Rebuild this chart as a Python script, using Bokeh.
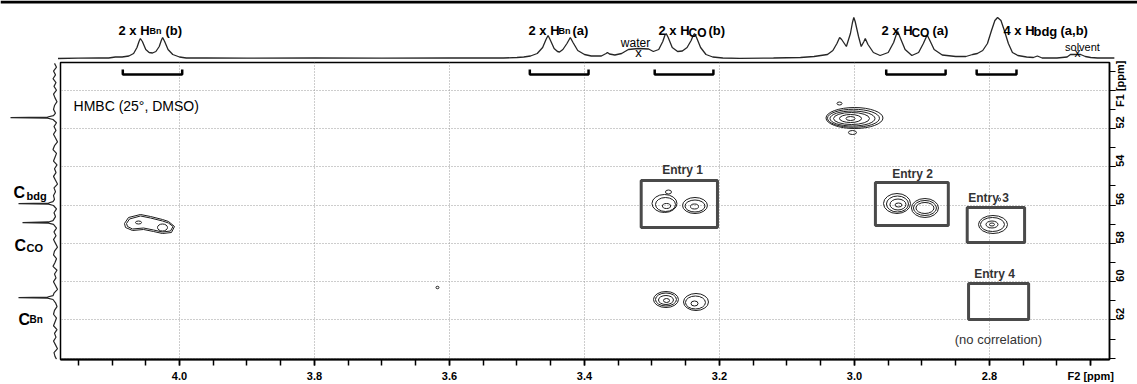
import math
from bokeh.plotting import figure
from bokeh.layouts import column, row
from bokeh.models import Range1d, FixedTicker, Label, Span, ColumnDataSource, NumeralTickFormatter
from bokeh.embed import file_html
from bokeh.resources import INLINE

# ---------------- data ----------------
# F2 (1H) projection shown on top: chemical shift (ppm) / intensity (a.u.)
F2_PPM = [4.180, 4.150, 4.120, 4.105, 4.095, 4.085, 4.075, 4.068, 4.063, 4.060, 4.058, 4.055, 4.050,
          4.045, 4.040, 4.035, 4.030, 4.027, 4.025, 4.022, 4.017, 4.010, 4.000, 3.990, 3.960, 3.900,
          3.800, 3.700, 3.600, 3.520, 3.500, 3.490, 3.480, 3.470, 3.462, 3.457, 3.454, 3.451, 3.445,
          3.440, 3.437, 3.432, 3.426, 3.421, 3.417, 3.410, 3.400, 3.390, 3.375, 3.368, 3.366, 3.363,
          3.355, 3.345, 3.335, 3.320, 3.305, 3.298, 3.290, 3.284, 3.281, 3.279, 3.276, 3.270, 3.262,
          3.255, 3.248, 3.242, 3.239, 3.237, 3.234, 3.228, 3.220, 3.210, 3.195, 3.170, 3.120, 3.080,
          3.060, 3.040, 3.032, 3.026, 3.022, 3.019, 3.012, 3.006, 3.003, 3.001, 2.999, 2.994, 2.990,
          2.986, 2.984, 2.980, 2.972, 2.962, 2.950, 2.942, 2.938, 2.936, 2.933, 2.925, 2.915, 2.905,
          2.898, 2.894, 2.892, 2.889, 2.882, 2.870, 2.850, 2.835, 2.825, 2.818, 2.810, 2.803, 2.797,
          2.792, 2.788, 2.783, 2.778, 2.772, 2.766, 2.758, 2.745, 2.735, 2.729, 2.722, 2.700, 2.685,
          2.680, 2.665, 2.658, 2.650, 2.640, 2.615]
F2_INT = [0.0, 0.3, 0.5, 0.5, 1.5, 1.5, 2.5, 5.0, 11.0, 17.0, 20.0, 17.0, 9.0,
          6.0, 5.5, 7.0, 12.0, 18.0, 21.0, 17.0, 9.0, 4.0, 1.5, 0.5, 0.5, 0.3,
          0.5, 0.3, 0.5, 0.5, 1.0, 1.5, 2.5, 5.0, 11.0, 19.0, 23.0, 19.0, 10.0,
          7.0, 6.5, 9.0, 15.0, 21.0, 16.0, 8.0, 4.0, 2.5, 2.5, 5.0, 6.0, 4.5,
          3.5, 5.0, 9.0, 10.0, 9.5, 7.0, 9.0, 17.0, 23.0, 25.0, 21.0, 11.0, 7.0,
          7.5, 11.0, 18.0, 23.0, 25.0, 21.0, 11.0, 4.0, 1.5, 0.5, 0.2, 0.5, 1.0,
          2.0, 4.0, 8.0, 15.0, 21.0, 19.0, 12.0, 25.0, 36.0, 41.0, 37.0, 22.0, 12.0,
          17.0, 20.0, 14.0, 6.0, 3.0, 6.0, 16.0, 24.0, 27.0, 22.0, 9.0, 3.0, 6.0,
          15.0, 21.0, 23.0, 19.0, 9.0, 3.5, 2.0, 2.0, 4.0, 5.0, 8.0, 15.0, 28.0,
          38.0, 41.0, 38.0, 28.0, 15.0, 6.0, 3.0, 1.5, 1.0, 2.5, 0.5, 0.5, 1.5,
          4.0, 4.0, 2.0, 1.0, 0.5, 0.5]

# F1 (13C) projection shown on the left: chemical shift (ppm) / intensity (a.u.)
F1_PPM = [48.6, 48.8, 49.0, 49.2, 49.4, 49.6, 49.8, 50.0, 50.2, 50.4, 50.6, 50.8, 51.0, 51.2,
          51.33, 51.40, 51.43, 51.46, 51.53, 51.7, 51.9, 52.1, 52.3, 52.5, 52.7, 52.9, 53.1,
          53.3, 53.5, 53.7, 53.9, 54.1, 54.3, 54.5, 54.7, 54.9, 55.1, 55.3, 55.5, 55.7, 55.82,
          55.89, 55.92, 55.95, 56.02, 56.2, 56.4, 56.6, 56.81, 56.88, 56.91, 56.94, 57.01, 57.2,
          57.4, 57.6, 57.8, 58.0, 58.2, 58.4, 58.6, 58.8, 59.0, 59.2, 59.4, 59.6, 59.8, 60.0,
          60.2, 60.4, 60.6, 60.73, 60.80, 60.83, 60.86, 60.93, 61.1, 61.3, 61.5, 61.7, 61.9,
          62.1, 62.3, 62.5, 62.7, 62.9, 63.1, 63.3, 63.5, 63.7, 63.9, 64.05]
F1_INT = [1.0, -1.0, 2.0, 0.0, 2.5, -0.5, 1.5, -1.0, 2.0, 0.5, -1.5, 1.0, 2.0, 0.0,
          2.0, 8.0, 45.0, 8.0, 2.5, -1.0, 1.5, -0.5, 2.0, 0.0, -2.0, 1.0, 2.5,
          -1.0, 0.5, 2.0, -1.5, 1.0, -0.5, 2.0, 0.0, -2.0, 1.5, 0.0, 2.0, 1.0, 2.5,
          7.0, 37.0, 7.0, 2.0, -1.0, 1.5, 0.0, 2.5, 7.0, 33.0, 7.0, 2.0, -1.0,
          1.5, -0.5, 2.0, 0.0, -2.0, 1.0, 2.0, -1.0, 0.5, 2.5, -1.5, 1.0, -0.5, 2.0,
          0.0, -2.0, 1.5, 2.5, 8.0, 37.0, 8.0, 2.5, 0.0, -1.5, 1.0, 2.0, -1.0,
          0.5, 2.0, -1.5, 1.0, -0.5, 2.0, 0.0, -2.0, 1.5, 0.5, -1.0]

# HMBC cross-peak contour levels, drawn as ellipses: centre F2, centre F1, width, height (ppm)
CP_F2 = [3.0000, 3.0015, 3.0030, 3.0044, 3.0059, 3.0059, 3.0222, 3.0030,
         3.2815, 3.2800, 3.2785, 3.2363, 3.2363, 3.2370, 3.2756,
         3.2793, 3.2793, 3.2793, 3.2785, 3.2348, 3.2356, 3.2370,
         2.9370, 2.9363, 2.9356, 2.9348, 2.8956, 2.8956, 2.8956,
         2.7948, 2.7956, 2.7963, 2.7963, 2.7852,
         4.0607, 4.0252, 3.6178]
CP_F1 = [51.452, 51.465, 51.478, 51.478, 51.478, 51.478, 50.694, 52.209,
         55.916, 55.969, 56.047, 56.021, 56.047, 56.073, 55.316,
         60.930, 60.930, 60.956, 60.982, 61.060, 61.086, 61.138,
         55.916, 55.943, 55.969, 55.995, 56.151, 56.151, 56.151,
         57.013, 57.013, 57.013, 57.013, 55.708,
         56.909, 57.170, 60.303]
CP_W = [0.0844, 0.0770, 0.0667, 0.0533, 0.0326, 0.0133, 0.0074, 0.0119,
        0.0370, 0.0296, 0.0119, 0.0370, 0.0296, 0.0119, 0.0089,
        0.0370, 0.0311, 0.0222, 0.0089, 0.0370, 0.0296, 0.0104,
        0.0400, 0.0326, 0.0237, 0.0104, 0.0400, 0.0341, 0.0267,
        0.0430, 0.0356, 0.0178, 0.0074, 0.0030,
        0.0089, 0.0148, 0.0044]
CP_H = [1.097, 0.940, 0.783, 0.627, 0.418, 0.209, 0.157, 0.209,
        0.940, 0.731, 0.261, 0.836, 0.627, 0.261, 0.209,
        0.836, 0.679, 0.470, 0.209, 0.888, 0.679, 0.261,
        1.044, 0.836, 0.574, 0.209, 0.992, 0.783, 0.574,
        0.940, 0.731, 0.366, 0.157, 0.157,
        0.157, 0.366, 0.130]

# irregular (two-lobed) contour of the H-Bn(b) cross-peak, two levels
LOOP1_F2 = [4.0815, 4.0756, 4.0578, 4.0430, 4.0252, 4.0163, 4.0074, 4.0119, 4.0252, 4.0385, 4.0533, 4.0696, 4.0800]
LOOP1_F1 = [56.961, 56.648, 56.491, 56.595, 56.752, 56.856, 57.117, 57.431, 57.483, 57.379, 57.274, 57.326, 57.170]
LOOP2_F2 = [4.0785, 4.0741, 4.0578, 4.0430, 4.0252, 4.0163, 4.0096, 4.0133, 4.0252, 4.0385, 4.0533, 4.0696, 4.0770]
LOOP2_F1 = [56.961, 56.726, 56.569, 56.674, 56.830, 56.935, 57.117, 57.352, 57.405, 57.300, 57.196, 57.248, 57.117]

# assignment brackets under the F2 projection (ppm)
BR_START = [4.084, 3.481, 3.296, 2.953, 2.819]
BR_END = [3.996, 3.394, 3.209, 2.865, 2.760]

# "Entry" boxes (ppm)
BOX_NAMES = ["Entry 1", "Entry 2", "Entry 3", "Entry 4"]
BOX_LEFT = [3.316, 2.969, 2.833, 2.831]
BOX_RIGHT = [3.203, 2.861, 2.748, 2.742]
BOX_TOP = [54.72, 54.82, 56.13, 60.09]
BOX_BOTTOM = [57.17, 57.07, 57.95, 61.97]

# axes: tick values and labels
X_TICKS = [4.0, 3.8, 3.6, 3.4, 3.2, 3.0, 2.8]
X_MINOR = [4.15, 4.10, 4.05, 4.0, 3.95, 3.90, 3.85, 3.8, 3.75, 3.70, 3.65, 3.6, 3.55, 3.50, 3.45, 3.4,
           3.35, 3.30, 3.25, 3.2, 3.15, 3.10, 3.05, 3.0, 2.95, 2.90, 2.85, 2.8, 2.75, 2.70, 2.65]
X_TITLE_AT, X_TITLE = 2.65, "F2 [ppm]"
Y_TICKS = [52, 54, 56, 58, 60, 62]
Y_MINOR = [49, 50, 51, 52, 53, 54, 55, 56, 57, 58, 59, 60, 61, 62, 63, 64]
Y_TITLE_AT, Y_TITLE = 50, "F1 [ppm]"
Y_GRID = [50, 52, 54, 56, 58, 60, 62, 64]

FONT = "Liberation Sans"
INK = "#1e1e1e"

# ---------------- figures ----------------
# 675 px per ppm (F2), 19.15 px per ppm (F1)
xr = Range1d(4.1763, 2.6222)
yr = Range1d(64.063, 48.553)   # F1 increases downwards

main = figure(width=1079, height=324, x_range=xr, y_range=yr, output_backend="svg",
              toolbar_location=None, x_axis_location="below", y_axis_location="right",
              min_border=0, min_border_left=2, min_border_right=28, min_border_top=2,
              min_border_bottom=25)
main.background_fill_color = "white"
main.border_fill_color = "white"
main.outline_line_color = "black"
main.outline_line_width = 1.5

xa = main.xaxis[0]
xa.ticker = FixedTicker(ticks=X_TICKS + [X_TITLE_AT], minor_ticks=X_MINOR)
xa.formatter = NumeralTickFormatter(format="0.0")
xa.major_label_overrides = {X_TITLE_AT: X_TITLE}
xa.axis_line_width = 2
xa.major_tick_in = 0
xa.major_tick_out = 6
xa.minor_tick_in = 0
xa.minor_tick_out = 6
xa.major_tick_line_width = 1.5
xa.minor_tick_line_width = 1.5
xa.major_label_standoff = 4
xa.major_label_text_font = FONT
xa.major_label_text_font_size = "11px"
xa.major_label_text_font_style = "bold"
xa.major_label_text_color = "black"

ya = main.yaxis[0]
ya.ticker = FixedTicker(ticks=Y_TICKS + [Y_TITLE_AT], minor_ticks=Y_MINOR)
ya.formatter = NumeralTickFormatter(format="0")
ya.major_label_overrides = {Y_TITLE_AT: Y_TITLE}
ya.axis_line_width = 1.5
ya.major_tick_in = 0
ya.major_tick_out = 6
ya.minor_tick_in = 0
ya.minor_tick_out = 6
ya.major_tick_line_width = 1.2
ya.minor_tick_line_width = 1.2
ya.major_label_standoff = 5
ya.major_label_orientation = math.pi / 2
ya.major_label_text_font = FONT
ya.major_label_text_font_size = "11px"
ya.major_label_text_font_style = "bold"
ya.major_label_text_color = "black"

main.xgrid.ticker = FixedTicker(ticks=X_TICKS)
main.ygrid.ticker = FixedTicker(ticks=Y_GRID)
for g in (main.xgrid[0], main.ygrid[0]):
    g.grid_line_color = "#9a9a9a"
    g.grid_line_dash = "1 2"
    g.grid_line_width = 1

main.quad(left=BOX_LEFT, right=BOX_RIGHT, top=BOX_TOP, bottom=BOX_BOTTOM,
          fill_color=None, line_color="#4a4a4a", line_width=3)

cp = ColumnDataSource(dict(x=CP_F2, y=CP_F1, w=CP_W, h=CP_H))
main.ellipse(x="x", y="y", width="w", height="h", source=cp, fill_color=None,
             line_color=INK, line_width=1)
main.multi_line(xs=[LOOP1_F2 + LOOP1_F2[:1], LOOP2_F2 + LOOP2_F2[:1]],
                ys=[LOOP1_F1 + LOOP1_F1[:1], LOOP2_F1 + LOOP2_F1[:1]],
                line_color=INK, line_width=1)

BR_TIP, BR_BAR = 48.919, 49.180
main.multi_line(xs=[[a, a, b, b] for a, b in zip(BR_START, BR_END)],
                ys=[[BR_TIP, BR_BAR, BR_BAR, BR_TIP] for _ in BR_START],
                line_color="black", line_width=2.5)


def lab(fig, x, y, text, size, bold=True, align="left", baseline="alphabetic",
        color="black", angle=0.0):
    fig.add_layout(Label(x=x, y=y, text=text, text_font=FONT, text_font_size=size,
                         text_font_style="bold" if bold else "normal", text_align=align,
                         text_baseline=baseline, text_color=color, angle=angle))


lab(main, 4.157, 50.80, "HMBC (25°, DMSO)", "14px", bold=False)
ENTRY_X = [3.2548, 2.9141, 2.8015, 2.7926]
ENTRY_Y = [54.141, 54.350, 55.655, 59.624]
for name, ex, ey in zip(BOX_NAMES, ENTRY_X, ENTRY_Y):
    lab(main, ex, ey, name, "12px", align="center", color="#333333")
lab(main, 2.7867, 63.018, "(no correlation)", "13px", bold=False, align="center", color="#333333")

# ---- top projection (F2), full page width, same ppm-per-pixel as the main plot ----
top = figure(width=1137, height=60, x_range=Range1d(4.2652, 2.5807), y_range=Range1d(-2, 58),
             output_backend="svg", toolbar_location=None, x_axis_type=None, y_axis_type=None,
             min_border=0, min_border_left=0, min_border_right=0, min_border_top=0,
             min_border_bottom=0)
top.outline_line_color = None
top.background_fill_color = "white"
top.border_fill_color = "white"
top.add_layout(Span(location=56.5, dimension="width", line_color="black", line_width=3))
top.line(F2_PPM, F2_INT, line_color="#262626", line_width=1.3)

for x, t in [(4.0904, "2 x H"), (3.4830, "2 x H"), (3.2904, "2 x H"), (2.9600, "2 x H"), (2.7793, "4 x H")]:
    lab(top, x, 28, t, "13px")
lab(top, 4.0444, 28, "Bn", "9px")
lab(top, 3.4385, 28, "Bn", "9px")
lab(top, 3.2459, 26, "CO", "12px")
lab(top, 2.9156, 26, "CO", "12px")
lab(top, 2.7348, 27, "bdg", "13px")
lab(top, 4.0207, 28, "(b)", "13px")
lab(top, 3.4178, 28, "(a)", "13px")
lab(top, 3.2163, 28, "(b)", "13px")
lab(top, 2.8844, 28, "(a)", "13px")
lab(top, 2.6948, 28, "(a,b)", "13px")
lab(top, 3.3244, 16, "water", "12px", bold=False, align="center")
lab(top, 3.3200, -1.7, "x", "13px", bold=False, align="center", baseline="bottom")
lab(top, 2.6622, 12, "solvent", "11px", bold=False, align="center")
lab(top, 2.6696, -1.8, "x", "12px", bold=False, align="center", baseline="bottom")

# ---- left projection (F1) ----
left = figure(width=58, height=324, x_range=Range1d(55, -3), y_range=yr, output_backend="svg",
              toolbar_location=None, x_axis_type=None, y_axis_type=None,
              min_border=0, min_border_left=0, min_border_right=0, min_border_top=2,
              min_border_bottom=25)
left.outline_line_color = None
left.background_fill_color = "white"
left.border_fill_color = "white"
left.line(F1_INT, F1_PPM, line_color="#262626", line_width=1.2)

lab(left, 42, 55.342, "C", "16px")
lab(left, 29, 55.499, "bdg", "11px")
lab(left, 41, 58.110, "C", "16px")
lab(left, 29, 58.266, "CO", "11px")
lab(left, 37, 61.974, "C", "16px")
lab(left, 26, 61.974, "Bn", "10px")

layout = column(top, row(left, main))

open("out.html", "w").write(file_html(layout, INLINE))
